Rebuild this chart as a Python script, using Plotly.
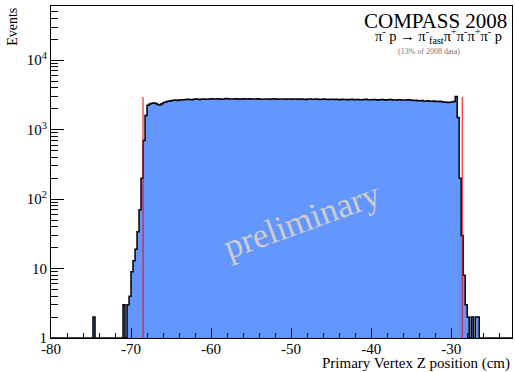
import numpy as np
import plotly.graph_objects as go

# ---------------- data ----------------
bin_width = 0.25
hist_lo = -80.0
hist_hi = -22.25

# isolated low-count bins (lower edge, counts)
spike_lo = [-74.75]
spike_counts = [2]

# main distribution, consecutive bins starting at main_lo
main_lo = -71.0
left_edge_counts = [3, 1, 3, 4, 9, 13, 19, 34, 70, 200, 700, 1600, 2250]
plateau_counts = [
    2330, 2400, 2420, 2380,
    2300, 2260, 2350, 2450,
    2500, 2560, 2580, 2620,
    2640, 2660, 2630, 2680,
    2700, 2690, 2720, 2740, 2710, 2700, 2730, 2760, 2740, 2720, 2750, 2770, 2740, 2730, 2760,
    2780, 2760, 2750, 2790, 2770, 2740, 2760, 2800, 2780, 2760, 2750, 2770, 2790, 2760, 2740, 2770, 2780, 2750, 2760, 2790,
    2770, 2750, 2760, 2780, 2740, 2730, 2760, 2770, 2750, 2740, 2760, 2780, 2760, 2740, 2750, 2770, 2760, 2730, 2750, 2760,
    2740, 2760, 2750, 2730, 2770, 2750, 2740, 2720, 2750, 2760, 2740, 2730, 2750, 2740, 2720, 2740, 2750, 2730, 2720, 2740,
    2730, 2710, 2740, 2720, 2700, 2730, 2720, 2710, 2690, 2720, 2730, 2700, 2710, 2720, 2700, 2690, 2710, 2730, 2700, 2690,
    2700, 2710, 2690, 2680, 2700, 2720, 2700, 2680, 2690, 2710, 2700, 2680, 2670, 2690, 2700, 2680, 2660, 2680, 2690, 2670,
    2650, 2630, 2640, 2610, 2600, 2620, 2590, 2580, 2600, 2570, 2560, 2580, 2550, 2540, 2560, 2530,
    2500, 2480, 2460, 2470, 2500, 2550,
]
right_edge_counts = [3000, 1500, 200, 30, 8, 3, 2, 0, 2, 0, 2, 2]

# cut positions (red lines)
cut_z = [-68.5, -28.62]
cut_top = 2950

x_tick_vals = [-80, -70, -60, -50, -40, -30]
x_tick_text = ["-80", "-70", "-60", "-50", "-40", "-30"]
y_tick_vals = [1, 10, 100, 1000, 10000]
y_tick_text = ["1", "10", "10<sup>2</sup>", "10<sup>3</sup>", "10<sup>4</sup>"]

# ---------------- build histogram ----------------
n_bins = int(round((hist_hi - hist_lo) / bin_width))
edges = hist_lo + bin_width * np.arange(n_bins + 1)
counts = np.zeros(n_bins)
for lo, c in zip(spike_lo, spike_counts):
    counts[int(round((lo - hist_lo) / bin_width))] = c
main = left_edge_counts + plateau_counts + right_edge_counts
i0 = int(round((main_lo - hist_lo) / bin_width))
counts[i0:i0 + len(main)] = main
centers = 0.5 * (edges[:-1] + edges[1:])

y_floor = 1.0
disp = np.where(counts > 0, counts, y_floor)
step_x = np.concatenate([[edges[0]], edges[:-1], [edges[-1]], [edges[-1]]])
step_y = np.concatenate([[y_floor], disp, [disp[-1]], [y_floor]])

fill_color = "rgb(100,150,255)"
serif = "Liberation Serif, Times New Roman, serif"

fig = go.Figure()
mask = counts > 1
fig.add_trace(go.Bar(x=centers[mask], y=counts[mask], width=bin_width,
                     marker=dict(color=fill_color, line=dict(width=0)),
                     hoverinfo="skip"))
fig.add_trace(go.Scatter(x=step_x, y=step_y, mode="lines", line_shape="hv",
                         line=dict(color="black", width=1.5), hoverinfo="skip"))
for cz in cut_z:
    fig.add_trace(go.Scatter(x=[cz, cz], y=[y_floor, cut_top], mode="lines",
                             line=dict(color="red", width=1), hoverinfo="skip"))

fig.update_layout(
    width=515, height=372,
    margin=dict(l=51, r=3, t=6, b=34),
    paper_bgcolor="white", plot_bgcolor="white",
    showlegend=False, bargap=0,
    font=dict(family=serif, color="black"),
)
fig.update_xaxes(
    range=[-80, -22.4], showline=True, linecolor="black", linewidth=1, mirror=True,
    ticks="inside", ticklen=10, tickwidth=1, tickcolor="black", layer="above traces",
    tickmode="array", tickvals=x_tick_vals, ticktext=x_tick_text, ticklabelstandoff=-3,
    minor=dict(ticks="inside", ticklen=5, tickcolor="black", tickwidth=1, dtick=2, tick0=-80),
    showgrid=False, zeroline=False, tickfont=dict(family=serif, size=15, color="black"),
)
fig.update_yaxes(
    type="log", range=[0, 4.78], showline=True, linecolor="black", linewidth=1, mirror=True,
    ticks="inside", ticklen=13, tickwidth=1, tickcolor="black", layer="above traces",
    tickmode="array", tickvals=y_tick_vals, ticktext=y_tick_text,
    minor=dict(ticks="inside", ticklen=7, tickcolor="black", tickmode="array",
               tickvals=[m * 10 ** k for k in range(5) for m in range(2, 10)]),
    showgrid=False, zeroline=False, tickfont=dict(family=serif, size=15, color="black"),
)

ann = [
    dict(text="Events", xref="paper", yref="paper", x=-0.085, y=1.0, xanchor="center",
         yanchor="top", textangle=-90, showarrow=False, font=dict(size=14, family=serif)),
    dict(text="Primary Vertex Z position (cm)", xref="paper", yref="paper", x=1.0, y=-0.076,
         xanchor="right", yanchor="middle", showarrow=False, font=dict(size=15, family=serif)),
    dict(text="COMPASS 2008", xref="paper", yref="paper", x=0.9935, y=0.956,
         xanchor="right", yanchor="middle", showarrow=False, font=dict(size=21, family=serif)),
    dict(text="π<sup>-</sup> p → π<sup>-</sup><sub>fast</sub>π<sup>+</sup>π<sup>-</sup>π<sup>+</sup>π<sup>-</sup> p",
         xref="paper", yref="paper", x=0.982, y=0.91, xanchor="right", yanchor="middle",
         showarrow=False, font=dict(size=14.5, family=serif)),
    dict(text="(13% of 2008 data)", xref="paper", yref="paper", x=0.82, y=0.862,
         xanchor="center", yanchor="middle", showarrow=False,
         font=dict(size=8, family=serif, color="#777777")),
    dict(text="preliminary", xref="paper", yref="paper", x=0.5445, y=0.355,
         xanchor="center", yanchor="middle", textangle=-20, showarrow=False,
         font=dict(size=35, family=serif, color="#cccccc")),
]
fig.update_layout(annotations=ann)

fig.write_html("out.html")
